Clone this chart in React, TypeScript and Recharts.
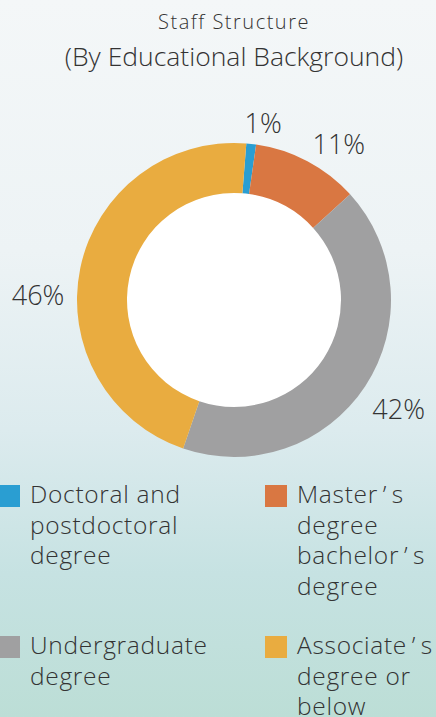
import React from 'react'
import { PieChart, Pie, Cell } from 'recharts'

const categories = [
  'Doctoral and postdoctoral degree',
  'Master\u2009’\u2009s degree bachelor\u2009’\u2009s degree',
  'Undergraduate degree',
  'Associate\u2009’\u2009s degree or below',
]
const shares = [1, 11, 42, 46]
const colors = ['#2a9ed2', '#d97742', '#a0a0a1', '#e9ac40']

// clockwise angle nudge (deg) and label radius, per slice
const labelTweak = [
  { da: 3, r: 180 },
  { da: 6, r: 188 },
  { da: 0, r: 197 },
  { da: -10, r: 196 },
]

const RAD = Math.PI / 180
const FONT = "'Open Sans', 'Liberation Sans', sans-serif"

const renderLabel = (props: any) => {
  const { cx, cy, midAngle, index, value } = props
  const t = labelTweak[index]
  const a = midAngle - t.da
  const x = cx + t.r * Math.cos(-a * RAD)
  const y = cy + t.r * Math.sin(-a * RAD)
  return (
    <text
      x={x}
      y={y}
      textAnchor="middle"
      dominantBaseline="central"
      fill="#333"
      fontSize={27}
      fontWeight={300}
      fontFamily={FONT}
    >
      {value}%
    </text>
  )
}

const LegendItem = ({ i, left, top, width }: any) => (
  <div style={{ position: 'absolute', left, top, width, display: 'flex' }}>
    <div style={{ width: 22, height: 22, background: colors[i], marginTop: 2, flexShrink: 0 }} />
    <div
      style={{
        marginLeft: 10,
        fontSize: 24.5,
        letterSpacing: 0.7,
        lineHeight: '30.5px',
        color: '#333',
        fontFamily: FONT,
        fontWeight: 300,
        marginTop: -4,
      }}
    >
      {categories[i]}
    </div>
  </div>
)

export default function App() {
  const data = categories.map((name, i) => ({ name, value: shares[i] }))
  return (
    <div
      style={{
        position: 'absolute',
        left: 0,
        top: 0,
        width: 436,
        height: 717,
        overflow: 'hidden',
        background:
          'linear-gradient(to bottom, #f4f7f8 0%, #edf3f5 35%, #dcebee 60%, #c6e2e2 80%, #bcded6 100%)',
      }}
    >
      <div
        style={{
          position: 'absolute',
          top: 6,
          left: 0,
          width: 468,
          textAlign: 'center',
          color: '#333',
          fontFamily: FONT,
          fontWeight: 300,
        }}
      >
        <div style={{ fontSize: 20, letterSpacing: 1.5, lineHeight: '32px' }}>Staff Structure</div>
        <div style={{ fontSize: 26.5, lineHeight: '36px', marginTop: 0 }}>(By Educational Background)</div>
      </div>
      <div style={{ position: 'absolute', left: 0, top: 0 }}>
        <PieChart width={436} height={480} margin={{ top: 0, right: 0, bottom: 0, left: 0 }}>
          <Pie
            data={[{ name: 'hole', value: 1 }]}
            dataKey="value"
            cx={234}
            cy={300}
            innerRadius={0}
            outerRadius={108}
            fill="#ffffff"
            stroke="none"
            isAnimationActive={false}
          />
          <Pie
            data={data}
            dataKey="value"
            cx={234}
            cy={300}
            innerRadius={107}
            outerRadius={157}
            startAngle={85.5}
            endAngle={-274.5}
            stroke="none"
            label={renderLabel}
            labelLine={false}
            isAnimationActive={false}
          >
            {data.map((d, i) => (
              <Cell key={d.name} fill={colors[i]} />
            ))}
          </Pie>
        </PieChart>
      </div>
      <LegendItem i={0} left={-2} top={483} width={200} />
      <LegendItem i={1} left={265} top={483} width={180} />
      <LegendItem i={2} left={-2} top={634} width={240} />
      <LegendItem i={3} left={265} top={634} width={180} />
    </div>
  )
}
